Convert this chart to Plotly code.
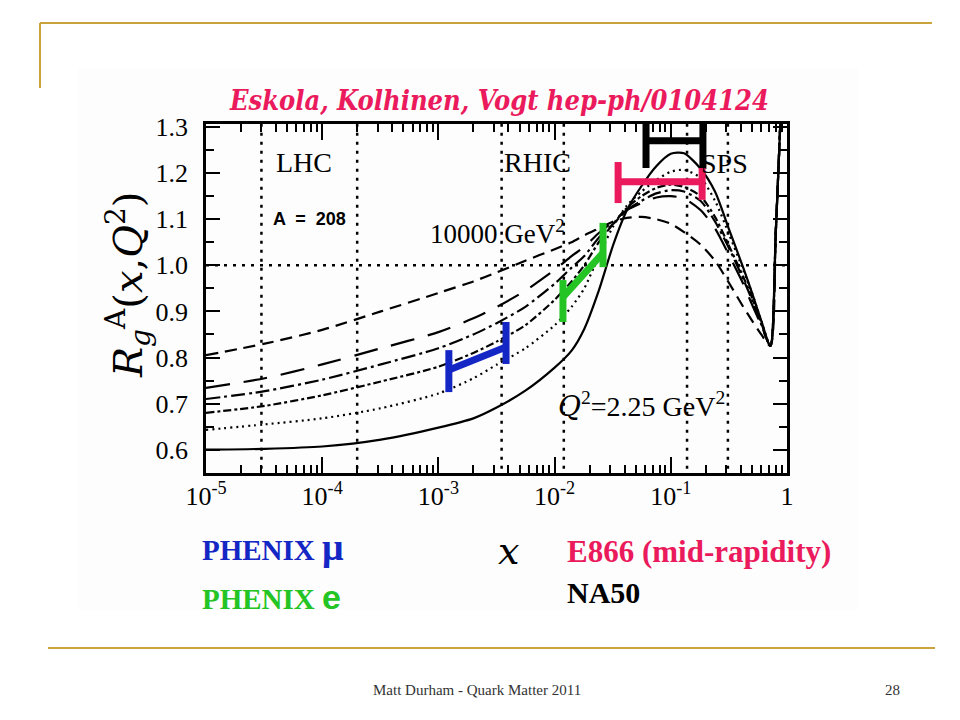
import plotly.graph_objects as go

# ---------------- data ----------------
x_grid = [1e-5, 3.2e-5, 1e-4, 3.2e-4, 1e-3, 2e-3, 3.2e-3, 5.6e-3, 1e-2, 1.4e-2,
          1.8e-2, 2.4e-2, 3.2e-2, 4.2e-2, 5.6e-2, 7.5e-2, 0.1, 0.13, 0.18, 0.24,
          0.32, 0.42, 0.5, 0.6, 0.72, 0.8, 0.88, 0.95]

r_q2_2p25 = [0.600, 0.602, 0.607, 0.622, 0.648, 0.668, 0.692, 0.728, 0.778, 0.815,
             0.862, 0.945, 1.045, 1.120, 1.172, 1.215, 1.242, 1.243, 1.210, 1.160,
             1.075, 0.995, 0.940, 0.880, 0.825, 1.070, 1.320, 1.520]
r_q2_b = [0.643, 0.655, 0.668, 0.690, 0.722, 0.755, 0.785, 0.820, 0.870, 0.910,
          0.950, 1.020, 1.085, 1.130, 1.160, 1.185, 1.203, 1.207, 1.190, 1.140,
          1.065, 0.990, 0.940, 0.880, 0.825, 1.070, 1.320, 1.520]
r_q2_c = [0.680, 0.695, 0.718, 0.748, 0.780, 0.810, 0.835, 0.870, 0.925, 0.965,
          1.000, 1.050, 1.090, 1.125, 1.150, 1.168, 1.175, 1.170, 1.150, 1.105,
          1.040, 0.975, 0.930, 0.875, 0.825, 1.070, 1.320, 1.520]
r_q2_d = [0.710, 0.727, 0.752, 0.785, 0.820, 0.850, 0.875, 0.910, 0.960, 0.995,
          1.020, 1.060, 1.090, 1.120, 1.140, 1.156, 1.163, 1.160, 1.140, 1.095,
          1.035, 0.970, 0.925, 0.872, 0.825, 1.070, 1.320, 1.520]
r_q2_e = [0.734, 0.755, 0.785, 0.820, 0.855, 0.885, 0.910, 0.945, 0.990, 1.020,
          1.040, 1.070, 1.095, 1.120, 1.135, 1.147, 1.150, 1.145, 1.120, 1.080,
          1.020, 0.960, 0.915, 0.870, 0.825, 1.070, 1.320, 1.520]
r_q2_10000 = [0.805, 0.830, 0.860, 0.900, 0.940, 0.965, 0.985, 1.010, 1.035, 1.050,
              1.065, 1.080, 1.095, 1.103, 1.105, 1.100, 1.090, 1.072, 1.045, 1.010,
              0.960, 0.910, 0.880, 0.850, 0.825, 1.070, 1.320, 1.520]

curves = [r_q2_2p25, r_q2_b, r_q2_c, r_q2_d, r_q2_e, r_q2_10000]
curve_dash = ["solid", "2px,4px", "8px,3px,3px,3px", "14px,4px,3px,4px", "24px,14px", "12px,7px"]

# experimental x-ranges (vertical caps at both ends, connecting bar)
phenix_mu_x = [1.23e-3, 3.82e-3]
phenix_mu_lo = [0.725, 0.786]
phenix_mu_hi = [0.816, 0.877]
phenix_mu_mid = [0.773, 0.823]

phenix_e_x = [1.18e-2, 2.61e-2]
phenix_e_lo = [0.877, 0.996]
phenix_e_hi = [0.968, 1.092]
phenix_e_mid = [0.931, 1.027]

na50_x = [6.12e-2, 0.189]
na50_lo = [1.211, 1.209]
na50_hi = [1.31, 1.31]
na50_mid = [1.270, 1.270]

e866_x = [3.52e-2, 0.186]
e866_lo = [1.135, 1.142]
e866_hi = [1.224, 1.211]
e866_mid = [1.181, 1.181]

region_x = [3e-5, 2e-4, 3.5e-3, 1.2e-2, 0.138, 0.31]

x_tickvals = [1e-5, 1e-4, 1e-3, 1e-2, 1e-1, 1]
x_ticktext = ["10<sup>-5</sup>", "10<sup>-4</sup>", "10<sup>-3</sup>", "10<sup>-2</sup>",
              "10<sup>-1</sup>", "1"]
y_tickvals = [0.6, 0.7, 0.8, 0.9, 1.0, 1.1, 1.2, 1.3]
y_ticktext = ["0.6", "0.7", "0.8", "0.9", "1.0", "1.1", "1.2", "1.3"]

# ---------------- layout geometry ----------------
OFF = 8                      # page body margin of the html page
W, H = 960 - OFF, 720 - OFF
L_PX, R_PX, T_PX, B_PX = 206, 787, 124, 473   # plot area in page pixels


def px_x(px):
    return (px - L_PX) / (R_PX - L_PX)


def px_y(py):
    return (B_PX - py) / (B_PX - T_PX)


SERIF = "Liberation Serif"
ITAL = "DejaVu Serif"
GOLD = "#c9a43c"
PINK = "#ea1a5c"
BLUE = "#1426c4"
GREEN = "#24c424"

fig = go.Figure()

# reference dotted lines
for xv in region_x:
    fig.add_trace(go.Scatter(x=[xv, xv], y=[0.5, 1.4], mode="lines",
                             line=dict(color="black", width=2.5, dash="3px,6px"),
                             hoverinfo="skip", showlegend=False))
fig.add_trace(go.Scatter(x=[1e-5, 1], y=[1.0, 1.0], mode="lines",
                         line=dict(color="black", width=2.5, dash="3px,6px"),
                         hoverinfo="skip", showlegend=False))

# curves
for ys, dsh in zip(curves, curve_dash):
    fig.add_trace(go.Scatter(x=x_grid, y=ys, mode="lines",
                             line=dict(color="black", width=2.2, dash=dsh,
                                       shape="spline", smoothing=0.7),
                             showlegend=False))


def add_range(xs, lo, hi, mid, color, width):
    for i in range(2):
        fig.add_trace(go.Scatter(x=[xs[i], xs[i]], y=[lo[i], hi[i]], mode="lines",
                                 line=dict(color=color, width=width),
                                 showlegend=False))
    fig.add_trace(go.Scatter(x=xs, y=mid, mode="lines",
                             line=dict(color=color, width=width),
                             showlegend=False))


add_range(phenix_mu_x, phenix_mu_lo, phenix_mu_hi, phenix_mu_mid, BLUE, 7)
add_range(phenix_e_x, phenix_e_lo, phenix_e_hi, phenix_e_mid, GREEN, 7)
add_range(na50_x, na50_lo, na50_hi, na50_mid, "black", 7)
add_range(e866_x, e866_lo, e866_hi, e866_mid, PINK, 7)

axis_common = dict(showline=True, linecolor="black", linewidth=2.5, mirror="allticks",
                   ticks="inside", tickcolor="black", tickwidth=2, showgrid=False,
                   zeroline=False)

fig.update_xaxes(type="log", range=[-5, 0], tickvals=x_tickvals, ticktext=x_ticktext,
                 ticklen=16, tickfont=dict(family=SERIF, size=26, color="black"),
                 ticklabelstandoff=-2,
                 minor=dict(ticks="inside", ticklen=8, tickwidth=1.5, tickcolor="black",
                            dtick="D1", showgrid=False),
                 **axis_common)
fig.update_yaxes(range=[0.5495, 1.3065], tickvals=y_tickvals, ticktext=y_ticktext,
                 ticklen=14, tickfont=dict(family=SERIF, size=26, color="black"),
                 ticklabelstandoff=10,
                 minor=dict(ticks="inside", ticklen=8, tickwidth=1.5, tickcolor="black",
                            dtick=0.05, showgrid=False),
                 **axis_common)

shapes = [
    dict(type="rect", xref="paper", yref="paper", x0=px_x(78), x1=px_x(858),
         y0=px_y(610), y1=px_y(68), fillcolor="#fdfdfd", line=dict(width=0), layer="below"),
    dict(type="line", xref="paper", yref="paper", x0=px_x(40), x1=px_x(932),
         y0=px_y(23), y1=px_y(23), line=dict(color=GOLD, width=2)),
    dict(type="line", xref="paper", yref="paper", x0=px_x(40), x1=px_x(40),
         y0=px_y(23), y1=px_y(88), line=dict(color=GOLD, width=2)),
    dict(type="line", xref="paper", yref="paper", x0=px_x(48), x1=px_x(935),
         y0=px_y(648), y1=px_y(648), line=dict(color=GOLD, width=2)),
]


def ann(text, px, py, size, color="black", family=SERIF, xanchor="center", angle=0,
        weight=None, style=None):
    f = dict(family=family, size=size, color=color)
    if weight:
        f["weight"] = weight
    if style:
        f["style"] = style
    return dict(text=text, xref="paper", yref="paper", x=px_x(px), y=px_y(py),
                xanchor=xanchor, yanchor="middle", showarrow=False, textangle=angle,
                font=f)


annotations = [
    ann("Eskola, Kolhinen, Vogt hep-ph/0104124", 499, 101, 27, PINK,
        family="DejaVu Serif Condensed, DejaVu Serif", weight="bold", style="italic"),
    ann("LHC", 304, 162, 28),
    ann("RHIC", 537, 162, 28),
    ann("SPS", 724, 163, 28),
    ann("<b>A  =  208</b>", 309, 219, 18, family="Liberation Sans"),
    ann("10000 GeV<sup>2</sup>", 497, 232, 27),
    ann("<span style='font-family:DejaVu Serif'><i>Q</i></span><sup>2</sup>=2.25 GeV<sup>2</sup>",
        641, 405, 28),
    ann("<i>R</i><sub><i>g</i></sub><sup>A</sup>(<i>x</i>,<i>Q</i><sup>2</sup>)", 128, 285, 40,
        family=ITAL, angle=-90),
    ann("<i>x</i>", 508, 551, 38, family=ITAL),
    ann("<b>PHENIX </b><b><span style='font-size:38px'>μ</span></b>", 200, 547, 29, BLUE,
        xanchor="left"),
    ann("<b>PHENIX </b><b><span style='font-family:Liberation Sans;font-size:34px'>e</span></b>",
        200, 597, 29, GREEN, xanchor="left"),
    ann("<b>E866 (mid-rapidity)</b>", 565, 551, 31, PINK, xanchor="left"),
    ann("<b>NA50</b>", 565, 592, 30, "black", xanchor="left"),
    ann("Matt Durham - Quark Matter 2011", 477, 690, 15, "#333333"),
    ann("28", 893, 690, 15, "#333333"),
]

fig.update_layout(width=W, height=H,
                  margin=dict(l=L_PX - OFF, r=W - (R_PX - OFF), t=T_PX - OFF,
                              b=H - (B_PX - OFF), pad=0),
                  paper_bgcolor="white", plot_bgcolor="white",
                  shapes=shapes, annotations=annotations, showlegend=False)

fig.write_html("out.html")
